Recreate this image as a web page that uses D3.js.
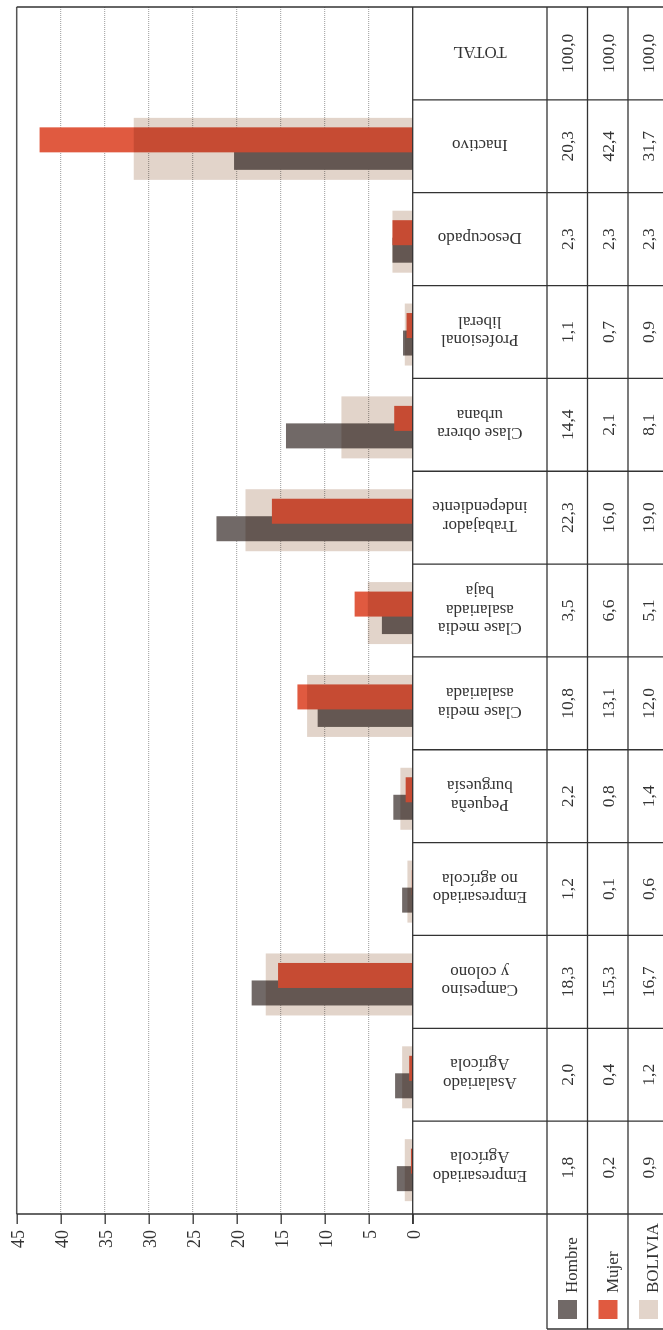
<!DOCTYPE html>
<html>
<head>
<meta charset="utf-8">
<script src="https://cdn.jsdelivr.net/npm/d3@7"></script>
<style>
  html, body { margin: 0; padding: 0; background: #fff; }
  svg { display: block; }
  text { font-family: "Liberation Serif", "DejaVu Serif", serif; fill: #333; }
</style>
</head>
<body>
<svg id="chart" width="663" height="1330"></svg>
<script>
// Categories (first one at the bottom of the page), last row is the total
const categories = [
  ["Empresariado", "Agrícola"],
  ["Asalariado", "Agrícola"],
  ["Campesino", "y colono"],
  ["Empresariado", "no agrícola"],
  ["Pequeña", "burguesía"],
  ["Clase media", "asalariada"],
  ["Clase media", "asalariada", "baja"],
  ["Trabajador", "independiente"],
  ["Clase obrera", "urbana"],
  ["Profesional", "liberal"],
  ["Desocupado"],
  ["Inactivo"],
  ["TOTAL"]
];
const hombre  = [1.8, 2.0, 18.3, 1.2, 2.2, 10.8, 3.5, 22.3, 14.4, 1.1, 2.3, 20.3, 100.0];
const mujer   = [0.2, 0.4, 15.3, 0.1, 0.8, 13.1, 6.6, 16.0, 2.1, 0.7, 2.3, 42.4, 100.0];
const bolivia = [0.9, 1.2, 16.7, 0.6, 1.4, 12.0, 5.1, 19.0, 8.1, 0.9, 2.3, 31.7, 100.0];
const seriesNames = ["Hombre", "Mujer", "BOLIVIA"];
const tickValues = [0, 5, 10, 15, 20, 25, 30, 35, 40, 45];

const colors = { Hombre: "#716967", Mujer: "#e05a40", BOLIVIA: "#e2d4ca" };
const series = [hombre, mujer, bolivia];

const svg = d3.select("#chart");
const W = 663;
const topY = 7, bottomY = 1214;
const keys = categories.map((c, i) => "c" + i);

// value scale runs from right (0) to left (45)
const x = d3.scaleLinear().domain([0, 45]).range([412.7, 16.7]);
// rows, first category at the bottom
const y = d3.scaleBand().domain(keys).range([bottomY, topY]).padding(0);
const rowH = y.bandwidth();

// table columns
const catLeft = x(0), catRight = 547, colW = 40.5;
const colX = [catRight, catRight + colW, catRight + 2 * colW, catRight + 3 * colW];
const lineColor = "#333";

// dotted grid
svg.append("g").selectAll("line").data(tickValues.filter(v => v > 0 && v < 45)).join("line")
  .attr("x1", d => x(d)).attr("x2", d => x(d))
  .attr("y1", topY).attr("y2", bottomY)
  .attr("stroke", "#9a9a9a").attr("stroke-width", 1).attr("stroke-dasharray", "1,1");

// bars: Hombre and Mujer first, then BOLIVIA multiplied over them
const barRows = d3.range(categories.length - 1);
const gBars = svg.append("g");
gBars.selectAll("rect.h").data(barRows).join("rect").attr("class", "h")
  .attr("x", i => x(hombre[i])).attr("width", i => x(0) - x(hombre[i]))
  .attr("y", i => y(keys[i]) + 45).attr("height", 25)
  .attr("fill", colors.Hombre);
gBars.selectAll("rect.m").data(barRows).join("rect").attr("class", "m")
  .attr("x", i => x(mujer[i])).attr("width", i => x(0) - x(mujer[i]))
  .attr("y", i => y(keys[i]) + 27.5).attr("height", 25)
  .attr("fill", colors.Mujer);
gBars.selectAll("rect.b").data(barRows).join("rect").attr("class", "b")
  .attr("x", i => x(bolivia[i])).attr("width", i => x(0) - x(bolivia[i]))
  .attr("y", i => y(keys[i]) + 18).attr("height", 62)
  .attr("fill", colors.BOLIVIA)
  .style("mix-blend-mode", "multiply");

// frame: left edge and top edge
svg.append("line").attr("x1", x(45)).attr("x2", x(45)).attr("y1", topY).attr("y2", bottomY)
  .attr("stroke", "#555").attr("stroke-width", 1.5);
svg.append("line").attr("x1", x(45)).attr("x2", W + 10).attr("y1", topY).attr("y2", topY)
  .attr("stroke", lineColor).attr("stroke-width", 1.3);

// value axis along the bottom
const axis = d3.axisBottom(x).tickValues(tickValues).tickSize(10).tickFormat(d3.format("d"));
const gAxis = svg.append("g").attr("transform", `translate(0,${bottomY})`).call(axis);
gAxis.select(".domain").remove();
gAxis.selectAll(".tick line").attr("stroke", lineColor).attr("stroke-width", 1.3);
gAxis.selectAll(".tick text")
  .attr("x", 0).attr("y", 0).attr("dy", "0.35em")
  .attr("transform", "translate(0,16) rotate(-90)")
  .attr("text-anchor", "end")
  .style("font-family", "\"Liberation Serif\", serif")
  .style("font-size", "18px").style("fill", "#333");
svg.append("line").attr("x1", x(45)).attr("x2", W + 10).attr("y1", bottomY).attr("y2", bottomY)
  .attr("stroke", lineColor).attr("stroke-width", 1.3);

// zero line / table left edge
svg.append("line").attr("x1", catLeft).attr("x2", catLeft).attr("y1", topY).attr("y2", bottomY + 10)
  .attr("stroke", lineColor).attr("stroke-width", 1.3);

// table horizontal row separators
svg.append("g").selectAll("line").data(keys.slice(0, -1)).join("line")
  .attr("x1", catLeft).attr("x2", W + 10)
  .attr("y1", d => y(d)).attr("y2", d => y(d))
  .attr("stroke", lineColor).attr("stroke-width", 1.3);

// table vertical lines (extend through legend row)
svg.append("g").selectAll("line").data(colX).join("line")
  .attr("x1", d => d).attr("x2", d => d)
  .attr("y1", topY).attr("y2", 1329)
  .attr("stroke", lineColor).attr("stroke-width", 1.3);
svg.append("line").attr("x1", catRight).attr("x2", W + 10).attr("y1", 1329).attr("y2", 1329)
  .attr("stroke", lineColor).attr("stroke-width", 1.3);

// category labels (upside down), one text element per line
const catCx = (catLeft + catRight) / 2;
const lineH = 18.6;
const gCat = svg.append("g");
categories.forEach((lines, i) => {
  const cy = y(keys[i]) + rowH / 2;
  const off = -(lines.length - 1) / 2 * lineH;
  lines.forEach((ln, k) => {
    gCat.append("text")
      .attr("transform", `translate(${catCx},${cy}) rotate(180)`)
      .attr("text-anchor", "middle")
      .attr("y", off + k * lineH).attr("dy", "0.35em")
      .style("font-size", "17px")
      .text(ln);
  });
});

// numeric cells
const fmt = v => d3.format(".1f")(v).replace(".", ",");
const gNum = svg.append("g");
series.forEach((vals, s) => {
  const cx = colX[s] + colW / 2;
  gNum.selectAll(null).data(vals).join("text")
    .attr("transform", (d, i) => `translate(${cx},${y(keys[i]) + rowH / 2}) rotate(-90)`)
    .attr("text-anchor", "middle").attr("dy", "0.35em")
    .style("font-size", "17.5px")
    .text(d => fmt(d));
});

// legend row
const gLeg = svg.append("g");
seriesNames.forEach((name, s) => {
  gLeg.append("rect")
    .attr("x", colX[s] + 11).attr("y", 1300).attr("width", 19).attr("height", 19)
    .attr("fill", colors[name]);
  gLeg.append("text")
    .attr("transform", `translate(${colX[s] + 30},1293) rotate(-90)`)
    .attr("text-anchor", "start")
    .style("font-size", "17px")
    .text(name);
});
</script>
</body>
</html>
